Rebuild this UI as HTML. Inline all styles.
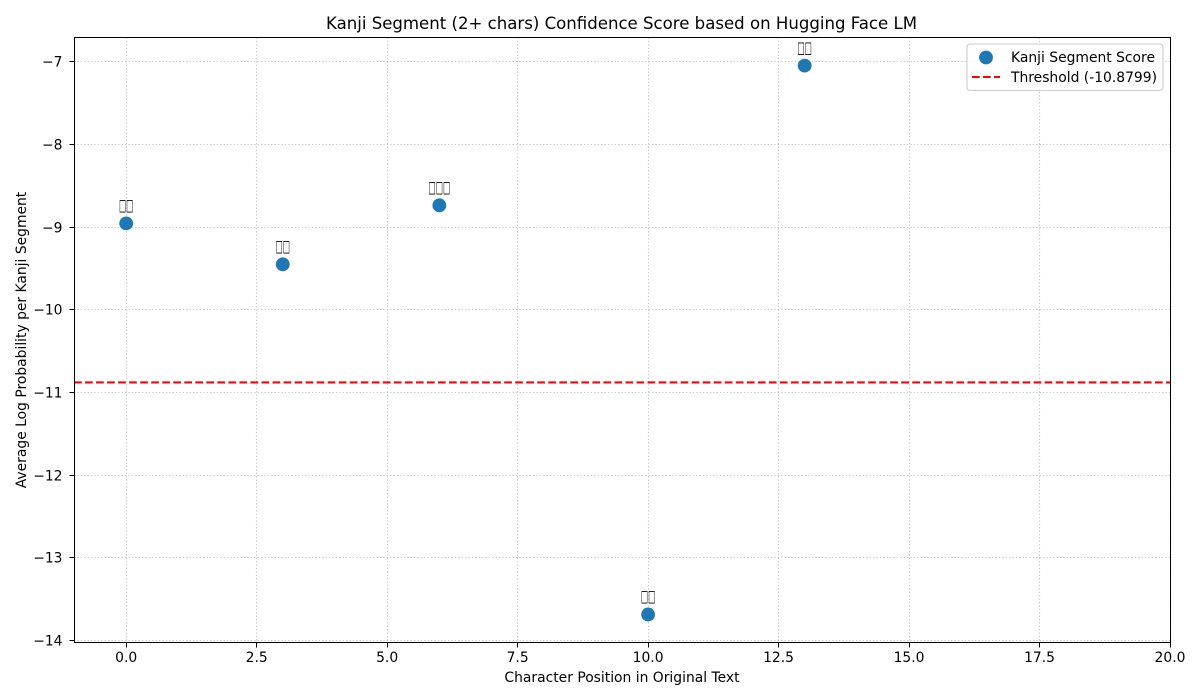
<!DOCTYPE html>
<html lang="en">
<head>
<meta charset="utf-8">
<title>Kanji Segment Confidence Score</title>
<style>
html,body{margin:0;padding:0;background:#fff;width:1200px;height:700px;overflow:hidden}
svg{display:block}
text{font-family:"DejaVu Sans",sans-serif;fill:#000}
</style>
</head>
<body>
<svg id="chart" width="1200" height="700" viewBox="0 0 1200 700" xmlns="http://www.w3.org/2000/svg">
  <rect x="74" y="38" width="1096" height="604" fill="#fff"/>
  <g id="grid"></g>
  <g id="threshold"></g>
  <g id="points"></g>
  <rect x="74.5" y="37.5" width="1096" height="605" fill="none" stroke="#000" stroke-width="1"/>
  <g id="ticks"></g>
  <text x="621.5" y="29" text-anchor="middle" font-size="16.67" textLength="591" lengthAdjust="spacingAndGlyphs">Kanji Segment (2+ chars) Confidence Score based on Hugging Face LM</text>
  <text x="622" y="682" text-anchor="middle" font-size="13.89">Character Position in Original Text</text>
  <text transform="translate(26 340) rotate(-90)" text-anchor="middle" font-size="13.89">Average Log Probability per Kanji Segment</text>
  <g id="legend">
    <rect x="967" y="44" width="196" height="46.5" rx="3" fill="#fff" fill-opacity="0.8" stroke="#ccc" stroke-width="1.1"/>
    <circle cx="986" cy="57.5" r="6.9" fill="#1f77b4"/>
    <text x="1011" y="62" font-size="13.89">Kanji Segment Score</text>
    <line x1="972" x2="1000" y1="77" y2="77" stroke="#f00" stroke-width="2.08" stroke-dasharray="7.7 3.33"/>
    <text x="1011" y="82" font-size="13.89">Threshold (-10.8799)</text>
  </g>
</svg>
<script>
const positions = [0, 3, 6, 10, 13];
const scores = [-8.957, -9.452, -8.739, -13.685, -7.05];
const segmentLabels = ["□□", "□□", "□□□", "□□", "□□"];
const thresholdValue = -10.8799;
const xTickValues = [0, 2.5, 5, 7.5, 10, 12.5, 15, 17.5, 20];
const xTickLabels = ["0.0", "2.5", "5.0", "7.5", "10.0", "12.5", "15.0", "17.5", "20.0"];
const yTickValues = [-7, -8, -9, -10, -11, -12, -13, -14];
const yTickLabels = ["−7", "−8", "−9", "−10", "−11", "−12", "−13", "−14"];

const NS = "http://www.w3.org/2000/svg";
const plot = { left: 74, right: 1170, top: 37.5, bottom: 642.5 };
const xDomain = [-1, 20];
const yDomain = [-6.71, -14.024];

function xScale(v) {
  return plot.left + (v - xDomain[0]) / (xDomain[1] - xDomain[0]) * (plot.right - plot.left);
}
function yScale(v) {
  return plot.top + (v - yDomain[0]) / (yDomain[1] - yDomain[0]) * (plot.bottom - plot.top);
}
function snap(p) {
  return Math.floor(p + 0.2) + 0.5;
}
function make(tag, attrs, parent, content) {
  const el = document.createElementNS(NS, tag);
  for (const k in attrs) el.setAttribute(k, attrs[k]);
  if (content !== undefined) el.textContent = content;
  parent.appendChild(el);
  return el;
}

const gridG = document.getElementById("grid");
const tickG = document.getElementById("ticks");
const thresholdG = document.getElementById("threshold");
const pointsG = document.getElementById("points");

xTickValues.forEach(function (v, i) {
  const x = snap(xScale(v));
  const g = make("line", { x1: x, x2: x, y1: plot.top, y2: plot.bottom, stroke: "#b0b0b0", "stroke-opacity": 0.7, "stroke-width": 1.1, "stroke-dasharray": "1.3 2.1" }, gridG);
  
  
  const t = make("line", { x1: x, x2: x, y1: plot.bottom, y2: plot.bottom + 5, stroke: "#000", "stroke-width": 1 }, tickG);
  
  
  const l = make("text", { x: xScale(v), y: 662, "text-anchor": "middle", "font-size": 13.89 }, tickG, xTickLabels[i]);
  
  
});

yTickValues.forEach(function (v, i) {
  const y = snap(yScale(v));
  const g = make("line", { x1: plot.left, x2: plot.right, y1: y, y2: y, stroke: "#b0b0b0", "stroke-opacity": 0.7, "stroke-width": 1.1, "stroke-dasharray": "1.3 2.1" }, gridG);
  
  
  const t = make("line", { x1: plot.left - 4.5, x2: plot.left + 0.5, y1: y, y2: y, stroke: "#000", "stroke-width": 1 }, tickG);
  
  
  const l = make("text", { x: plot.left - 11.5, y: y + 5, "text-anchor": "end", "font-size": 13.89 }, tickG, yTickLabels[i]);
  
  
});

const thresholdLine = make("line", { x1: plot.left, x2: plot.right, y1: yScale(thresholdValue), y2: yScale(thresholdValue), stroke: "#f00", "stroke-width": 2.08, "stroke-dasharray": "7.7 3.33" }, thresholdG);



positions.forEach(function (p, i) {
  const cx = xScale(p);
  const cy = yScale(scores[i]);
  const c = make("circle", { cx: cx, cy: cy, r: 6.9, fill: "#1f77b4" }, pointsG);
  
  
  const l = make("text", { transform: "translate(" + cx + " " + (cy - 12.8) + ") scale(0.465 1)", x: 0, y: 0, "text-anchor": "middle", "font-size": 16.5 }, pointsG, segmentLabels[i]);
  
  
});
</script>
</body>
</html>
